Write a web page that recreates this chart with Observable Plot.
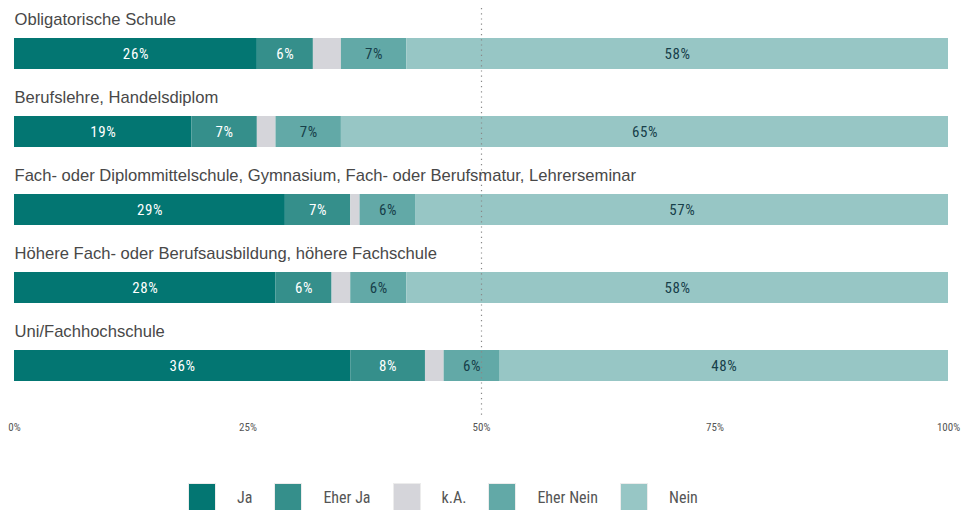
<!DOCTYPE html>
<html>
<head>
<meta charset="utf-8">
<script src="https://cdn.jsdelivr.net/npm/d3@7"></script>
<script src="https://cdn.jsdelivr.net/npm/@observablehq/plot@0.6"></script>
<style>
  body { margin: 0; background: #fff; }
  #chart { position: relative; width: 965px; }
  .vlab text { letter-spacing: 0.6px; }
  .legend { display: flex; align-items: center; padding-left: 189px; margin-top: 39px; }
  .legend .item { display: flex; align-items: center; margin-right: 23px; }
  .legend .sw { width: 26px; height: 26px; box-shadow: 0 0 0 1px #ececec; }
  .legend .lab { margin-left: 22px; font-family: 'Roboto Condensed', 'DejaVu Sans Condensed', 'Liberation Sans Narrow', Roboto, sans-serif; font-stretch: condensed; font-size: 16px; color: #555; }
</style>
</head>
<body>
<div id="chart"></div>
<script>
const categories = [
  "Obligatorische Schule",
  "Berufslehre, Handelsdiplom",
  "Fach- oder Diplommittelschule, Gymnasium, Fach- oder Berufsmatur, Lehrerseminar",
  "Höhere Fach- oder Berufsausbildung, höhere Fachschule",
  "Uni/Fachhochschule"
];
const answers = ["Ja", "Eher Ja", "k.A.", "Eher Nein", "Nein"];
const colors = ["#037672", "#358f8b", "#d5d5da", "#62a9a7", "#97c6c5"];
const ja = [26, 19, 29, 28, 36];
const eherJa = [6, 7, 7, 6, 8];
const ka = [3, 2, 1, 2, 2];
const eherNein = [7, 7, 6, 6, 6];
const nein = [58, 65, 57, 58, 48];
const xTicks = [0, 25, 50, 75, 100];

const series = [ja, eherJa, ka, eherNein, nein];
const data = [];
categories.forEach((c, i) => {
  answers.forEach((a, j) => data.push({cat: c, answer: a, value: series[j][i]}));
});

const condensed = "'Roboto Condensed', 'DejaVu Sans Condensed', 'Liberation Sans Narrow', Roboto, sans-serif";
const light = new Set(["Ja", "Eher Ja"]);
const dark = new Set(["Eher Nein", "Nein"]);

const chart = Plot.plot({
  width: 965,
  height: 445,
  marginLeft: 14,
  marginRight: 17,
  marginTop: 8,
  marginBottom: 30,
  x: {domain: [0, 100]},
  y: {domain: categories, range: [36, 382.5], paddingInner: 0.6, paddingOuter: 0, axis: null},
  color: {domain: answers, range: colors, legend: false},
  marks: [
    Plot.barX(data, Plot.stackX({x: "value", y: "cat", fill: "answer", order: null})),
    Plot.text(data, Plot.stackX({
      x: "value", y: "cat", z: "answer", order: null, className: "vlab",
      text: d => light.has(d.answer) ? d.value + "%" : "",
      fill: "white", fontSize: 15, fontWeight: "normal", fontFamily: condensed
    })),
    Plot.text(data, Plot.stackX({
      x: "value", y: "cat", z: "answer", order: null, className: "vlab",
      text: d => dark.has(d.answer) ? d.value + "%" : "",
      fill: "#17404a", fontSize: 15, fontWeight: "normal", fontFamily: condensed
    })),
    Plot.text(categories, {
      y: d => d, text: d => d, frameAnchor: "left", textAnchor: "start",
      dy: -34, fontSize: 16.6, fill: "#484848", fontFamily: "'Liberation Sans', Arial, sans-serif"
    }),
    Plot.ruleX([50], {stroke: "#888", strokeWidth: 1.2, strokeDasharray: "1.2,4"}),
    Plot.axisX({ticks: xTicks, tickFormat: d => d + "%", tickSize: 0, tickPadding: 8,
      fontSize: 11, fill: "#555", fontFamily: condensed, label: null})
  ]
});
document.getElementById("chart").appendChild(chart);

const legend = document.createElement("div");
legend.className = "legend";
answers.forEach((a, i) => {
  const item = document.createElement("div");
  item.className = "item";
  const sw = document.createElement("div");
  sw.className = "sw";
  sw.style.background = colors[i];
  const lab = document.createElement("span");
  lab.className = "lab";
  lab.textContent = a;
  item.appendChild(sw);
  item.appendChild(lab);
  legend.appendChild(item);
});
document.getElementById("chart").appendChild(legend);
</script>
</body>
</html>
